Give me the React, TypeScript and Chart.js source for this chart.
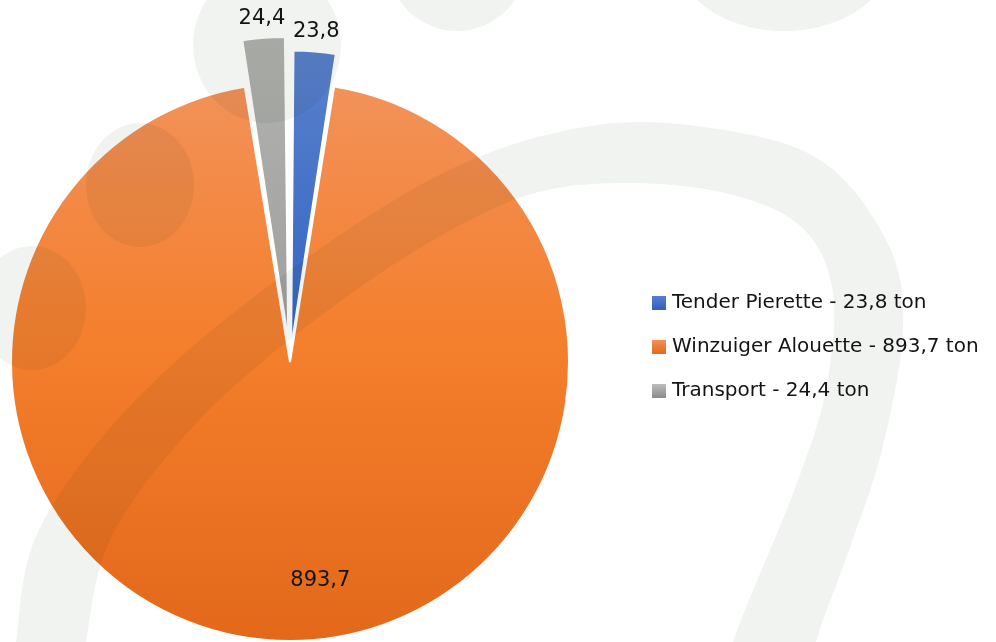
import React, { useEffect, useRef } from 'react';
import { Chart, registerables } from 'chart.js';

Chart.register(...registerables);

// ---- data ----
const categories = ['Tender Pierette', 'Winzuiger Alouette', 'Transport'];
const tonnage = [23.8, 893.7, 24.4];
const unitLabel = 'ton';

// ---- styles ----
const sliceOffsets = [70, 0, 100];
const sliceBorders = [1.5, 2, 1.5];
const sliceGradients = [
  ['#5d84cc', '#3666c4', '#2b57ad'],
  ['#f29561', '#f47f2d', '#e3681a'],
  ['#b3b3b1', '#a1a19f', '#8b8b8b'],
];
const markerGradients = [
  ['#5580d0', '#2f5fbf'],
  ['#f39058', '#e4691c'],
  ['#bdbdbd', '#8a8a8a'],
];
const FONT = '"DejaVu Sans", "Liberation Sans", sans-serif';
const TEXT_COLOR = '#141414';
const LEGEND_FONT_SIZE = 20;
const LEGEND_PAD = 24;
const LEGEND_BOX = 6;

// decorative background (drawn with multiply blending)
const bandOuter: [number, number][] = [
  [8, 720], [16, 642], [38, 532], [127, 409], [267, 287], [445, 172], [597, 125],
  [730, 131], [826, 164], [889, 246], [903, 330], [882, 450], [848, 553], [816, 642], [800, 720],
];
const bandInner: [number, number][] = [
  [718, 720], [733, 642], [794, 491], [826, 389], [832, 287], [794, 221], [699, 188],
  [571, 186], [476, 217], [349, 295], [210, 409], [114, 532], [86, 642], [80, 720],
];
const blobs = [
  { cx: 267, cy: 45, rx: 74, ry: 78 },
  { cx: 457, cy: -40, rx: 70, ry: 71 },
  { cx: 784, cy: -40, rx: 105, ry: 71 },
  { cx: 140, cy: 185, rx: 54, ry: 62 },
  { cx: 32, cy: 308, rx: 54, ry: 62 },
];

const fmt = (v: number) => v.toFixed(1).replace('.', ',');
const legendText = (i: number) => `${categories[i]} - ${fmt(tonnage[i])} ${unitLabel}`;

function catmull(points: [number, number][], start: boolean): string {
  let d = start ? `M ${points[0][0]} ${points[0][1]}` : `L ${points[0][0]} ${points[0][1]}`;
  for (let i = 0; i < points.length - 1; i++) {
    const p0 = points[Math.max(0, i - 1)];
    const p1 = points[i];
    const p2 = points[i + 1];
    const p3 = points[Math.min(points.length - 1, i + 2)];
    const c1x = p1[0] + (p2[0] - p0[0]) / 6;
    const c1y = p1[1] + (p2[1] - p0[1]) / 6;
    const c2x = p2[0] - (p3[0] - p1[0]) / 6;
    const c2y = p2[1] - (p3[1] - p1[1]) / 6;
    d += ` C ${c1x} ${c1y} ${c2x} ${c2y} ${p2[0]} ${p2[1]}`;
  }
  return d;
}

const bandPath = catmull(bandOuter, true) + ' ' + catmull(bandInner, false) + ' Z';

const SHIFT = 52; // canvas shifted left so legend/pie land at the right spots
const CANVAS_W = 996 + SHIFT;
const CANVAS_H = 642;
const PIE_AREA_RIGHT = 684; // chart area right edge (canvas coords)

export default function App() {
  const ref = useRef<HTMLCanvasElement | null>(null);

  useEffect(() => {
    const canvas = ref.current;
    if (!canvas) return;

    const markers = markerGradients.map((stops) => {
      const m = document.createElement('canvas');
      m.width = 14;
      m.height = 14;
      const mc = m.getContext('2d')!;
      const g = mc.createLinearGradient(0, 0, 0, 14);
      g.addColorStop(0, stops[0]);
      g.addColorStop(1, stops[1]);
      mc.fillStyle = g;
      mc.fillRect(0, 0, 14, 14);
      return m;
    });

    // measure legend so that its natural width places it exactly
    const mctx = document.createElement('canvas').getContext('2d')!;
    mctx.font = `${LEGEND_FONT_SIZE}px ${FONT}`;
    let maxText = 0;
    categories.forEach((_, i) => {
      maxText = Math.max(maxText, mctx.measureText(legendText(i)).width);
    });
    const legendWidth = LEGEND_PAD + LEGEND_BOX + LEGEND_FONT_SIZE / 2 + maxText + 10;
    const padRight = Math.max(0, CANVAS_W - PIE_AREA_RIGHT - legendWidth);

    const labelPlugin = {
      id: 'sliceLabels',
      afterDatasetsDraw(chart: any) {
        const meta = chart.getDatasetMeta(0);
        const c = chart.ctx as CanvasRenderingContext2D;
        c.save();
        c.font = `21px ${FONT}`;
        c.fillStyle = TEXT_COLOR;
        c.textAlign = 'center';
        c.textBaseline = 'middle';
        meta.data.forEach((arc: any, i: number) => {
          const p = arc.getProps(['x', 'y', 'startAngle', 'endAngle', 'outerRadius', 'circumference'], true);
          const off = (arc.options.offset || 0) / 4;
          const mid = (p.startAngle + p.endAngle) / 2;
          const fix = 1 - Math.sin(Math.min(Math.PI, p.circumference));
          const cx = p.x + Math.cos(mid) * off;
          const cy = p.y + Math.sin(mid) * off;
          let lx: number;
          let ly: number;
          if (p.circumference < Math.PI / 4) {
            const r = p.outerRadius + off * fix + 20;
            lx = cx + Math.cos(mid) * r;
            ly = cy + Math.sin(mid) * r;
          } else {
            const a = mid - (7.8 * Math.PI) / 180;
            const r = p.outerRadius * 0.79;
            lx = cx + Math.cos(a) * r;
            ly = cy + Math.sin(a) * r;
          }
          c.fillText(fmt(tonnage[i]), lx, ly);
        });
        c.restore();
      },
    };

    const chart = new Chart(canvas, {
      type: 'pie',
      data: {
        labels: categories,
        datasets: [
          {
            data: tonnage,
            backgroundColor: (ctx: any) => {
              const i = ctx.dataIndex;
              if (i === undefined) return sliceGradients[1][1];
              const g = ctx.chart.ctx.createLinearGradient(0, 38, 0, 642);
              const s = sliceGradients[i];
              g.addColorStop(0, s[0]);
              g.addColorStop(0.5, s[1]);
              g.addColorStop(1, s[2]);
              return g;
            },
            borderColor: '#ffffff',
            borderWidth: sliceBorders,
            offset: sliceOffsets,
          } as any,
        ],
      },
      options: {
        responsive: false,
        animation: false,
        events: [],
        radius: 279,
        layout: { padding: { left: 0, right: padRight, top: 52, bottom: 0 } },
        plugins: {
          tooltip: { enabled: false },
          title: {
            display: true,
            text: ' ',
            font: { size: 10, lineHeight: 1 },
            padding: { top: 20, bottom: 0 },
          },
          legend: {
            position: 'right',
            labels: {
              usePointStyle: true,
              boxWidth: LEGEND_BOX,
              boxHeight: 14,
              padding: LEGEND_PAD,
              color: TEXT_COLOR,
              font: { size: LEGEND_FONT_SIZE, family: FONT },
              generateLabels: () =>
                categories.map((_, i) => ({
                  text: legendText(i),
                  fillStyle: sliceGradients[i][1],
                  strokeStyle: 'transparent',
                  lineWidth: 0,
                  pointStyle: markers[i],
                  hidden: false,
                  index: i,
                  fontColor: TEXT_COLOR,
                })),
            },
          },
        },
      } as any,
      plugins: [labelPlugin],
    });

    return () => chart.destroy();
  }, []);

  return (
    <div>
      <div
        style={{
          position: 'fixed',
          left: -SHIFT,
          top: 0,
          width: CANVAS_W,
          height: CANVAS_H,
          background: '#ffffff',
        }}
      >
        <canvas
          ref={ref}
          width={CANVAS_W}
          height={CANVAS_H}
          style={{ display: 'block', width: CANVAS_W, height: CANVAS_H }}
        />
      </div>
      <svg
        width={996}
        height={642}
        style={{
          position: 'fixed',
          left: 0,
          top: 0,
          mixBlendMode: 'multiply',
          pointerEvents: 'none',
        }}
      >
        <g fill="#f1f3f1">
          {blobs.map((b, i) => (
            <ellipse key={i} cx={b.cx} cy={b.cy} rx={b.rx} ry={b.ry} />
          ))}
          <path d={bandPath} />
        </g>
      </svg>
    </div>
  );
}
